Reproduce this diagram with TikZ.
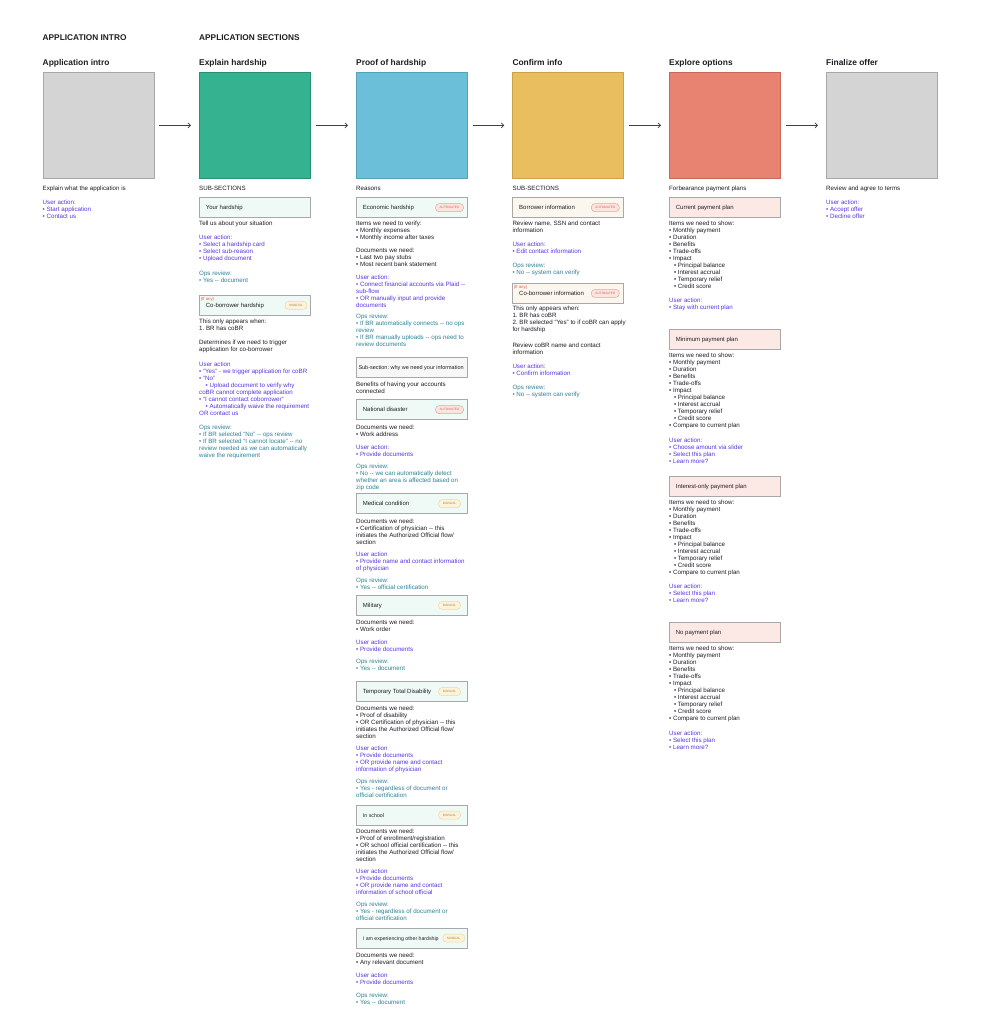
\documentclass[tikz,border=0pt]{standalone}
\usepackage{fontspec}
\setmainfont{Liberation Sans}
\usetikzlibrary{arrows.meta}
\frenchspacing
\definecolor{bodyc}{HTML}{1E1E24}
\definecolor{uac}{HTML}{5A34E0}
\definecolor{opsc}{HTML}{2D8296}
\definecolor{gbox}{HTML}{D4D4D4}\definecolor{gboxb}{HTML}{A8A8A8}
\definecolor{grn}{HTML}{35B391}\definecolor{grnb}{HTML}{2A8F74}
\definecolor{blu}{HTML}{6CBFD9}\definecolor{blub}{HTML}{58A2B9}
\definecolor{yel}{HTML}{E9BE5E}\definecolor{yelb}{HTML}{C9A24A}
\definecolor{sal}{HTML}{E88372}\definecolor{salb}{HTML}{C46A5C}
\definecolor{mint}{HTML}{EFFAF6}
\definecolor{beige}{HTML}{FBF7EE}
\definecolor{pink}{HTML}{FCE9E5}
\definecolor{subg}{HTML}{F7F7F7}
\definecolor{cardb}{HTML}{A8A8A8}
\definecolor{autof}{HTML}{FDE4E1}\definecolor{autob}{HTML}{E7A59B}\definecolor{autot}{HTML}{D66C5F}
\definecolor{manf}{HTML}{FDF3DA}\definecolor{manb}{HTML}{ECD8A4}\definecolor{mant}{HTML}{A88B4A}
\definecolor{ifany}{HTML}{F05A3A}
\newcommand\tb[1]{\begin{tabular}[t]{@{}l@{}}#1\end{tabular}}
\newcommand\dd{-{}-}
\newcommand\ind[1]{\hspace*{#1}}
\newcommand\mkcard[6]{% name, x, y, fill, font size, text
  \node[card, fill=#4] (#1) at (#2,#3) {};
  \node[cardtxt, font=\fontsize{#5}{7}\selectfont] (#1t) at ([xshift=6.7pt,yshift=-2pt]#1.west) {#6};}
\tikzset{
  body/.style={inner sep=0pt, anchor=base west, font=\fontsize{6.2}{7}\selectfont, text=bodyc},
  ua/.style={body, text=uac},
  ops/.style={body, text=opsc},
  hdr/.style={inner sep=0pt, anchor=base west, font=\fontsize{8.3}{10}\selectfont\bfseries, text=bodyc},
  ttl/.style={inner sep=0pt, anchor=base west, font=\fontsize{8.4}{10}\selectfont\bfseries, text=bodyc},
  bigbox/.style={line width=0.8pt, inner sep=0pt, minimum width=111pt, minimum height=106pt, anchor=north west},
  card/.style={draw=cardb, line width=0.7pt, inner sep=0pt, minimum width=110.5pt, minimum height=20pt, anchor=north west},
  cardtxt/.style={inner sep=0pt, anchor=base west, text=bodyc},
  badge/.style={rounded corners=3.6pt, line width=0.5pt, inner sep=0pt, minimum height=8pt, font=\fontsize{3.2}{4}\selectfont},
  autob/.style={badge, fill=autof, draw=autob, text=autot, minimum width=28pt},
  manb/.style={badge, fill=manf, draw=manb, text=mant, minimum width=22pt},
  ifa/.style={inner sep=0pt, anchor=base west, font=\fontsize{4.3}{5}\selectfont, text=ifany},
  arr/.style={draw=bodyc!85, line width=0.7pt, -{Straight Barb[length=2.6pt,width=5pt]}, shorten <=5pt, shorten >=8pt}
}
\begin{document}
\begin{tikzpicture}[x=1pt,y=-1pt]
\useasboundingbox (0,0) rectangle (980,1036);
\fill[white] (0,0) rectangle (980,1036);

% headers
\node[hdr] (hA) at (42.5,40) {APPLICATION INTRO};
\node[hdr] (hB) at (199,40) {APPLICATION SECTIONS};

% titles
\node[ttl] (tA) at (42.5,65) {Application intro};
\node[ttl] (tB) at (199,65) {Explain hardship};
\node[ttl] (tC) at (356,65) {Proof of hardship};
\node[ttl] (tD) at (512.3,65) {Confirm info};
\node[ttl] (tE) at (669,65) {Explore options};
\node[ttl] (tF) at (826,65) {Finalize offer};

% big boxes
\node[bigbox, fill=gbox, draw=gboxb] (bA) at (42.5,72) {};
\node[bigbox, fill=grn, draw=grnb] (bB) at (199,72) {};
\node[bigbox, fill=blu, draw=blub] (bC) at (356,72) {};
\node[bigbox, fill=yel, draw=yelb] (bD) at (512.3,72) {};
\node[bigbox, fill=sal, draw=salb] (bE) at (669,72) {};
\node[bigbox, fill=gbox, draw=gboxb] (bF) at (826,72) {};

% arrows
\draw[arr] (bA.east) -- (bB.west);
\draw[arr] (bB.east) -- (bC.west);
\draw[arr] (bC.east) -- (bD.west);
\draw[arr] (bD.east) -- (bE.west);
\draw[arr] (bE.east) -- (bF.west);

% ---------------- column A
\node[body] (a1) at (42.5,190.3) {Explain what the application is};
\node[ua] (a2) at (42.5,204.3) {\tb{User action:\\• Start application\\• Contact us}};

% ---------------- column B
\node[body] (b1) at (199,190.3) {SUB-SECTIONS};
\mkcard{cB1}{199}{197}{mint}{6}{Your hardship}
\node[body] (b2) at (199,225.7) {Tell us about your situation};
\node[ua] (b3) at (199,239.3) {\tb{User action:\\• Select a hardship card\\• Select sub-reason\\• Upload document}};
\node[ops] (b4) at (199,275.3) {\tb{Ops review:\\• Yes \dd{} document}};
\node[card, fill=mint] (cB2) at (199,295) {};
\node[ifa] (cB2i) at (200.6,300.8) {(If any)};
\node[cardtxt, font=\fontsize{6}{7}\selectfont] (cB2t) at (205.7,307.7) {Co-borrower hardship};
\node[manb] (cB2b) at ([xshift=-14.2pt]cB2.east) {MANUAL};
\node[body] (b5) at (199,323.7) {\tb{This only appears when:\\1. BR has coBR}};
\node[body] (b6) at (199,344.7) {\tb{Determines if we need to trigger\\application for co-borrower}};
\node[ua] (b7) at (199,366) {\tb{User action\\• “Yes” - we trigger application for coBR\\• “No”\\\ind{6.5pt}• Upload document to verify why\\coBR cannot complete application\\• “I cannot contact coborrower”\\\ind{6.5pt}• Automatically waive the requirement\\OR contact us}};
\node[ops] (b8) at (199,429.3) {\tb{Ops review:\\• If BR selected “No” \dd{} ops review\\• If BR selected “I cannot locate” \dd{} no\\review needed as we can automatically\\waive the requirement}};

% ---------------- column C
\node[body] (c1) at (356,190.3) {Reasons};
\mkcard{cC1}{356}{197.3}{mint}{6}{Economic hardship}
\node[autob] (cC1b) at ([xshift=-17.7pt]cC1.east) {AUTOMATED};
\node[body] (c2) at (356,225.3) {\tb{Items we need to verify:\\• Monthly expenses\\• Monthly income after taxes}};
\node[body] (c3) at (356,252.3) {\tb{Documents we need:\\• Last two pay stubs\\• Most recent bank statement}};
\node[ua] (c4) at (356,279.3) {\tb{User action:\\• Connect financial accounts via Plaid \dd\\sub-flow\\• OR manually input and provide\\documents}};
\node[ops] (c5) at (356,318.7) {\tb{Ops review:\\• If BR automatically connects \dd{} no ops\\review\\• If BR manually uploads \dd{} ops need to\\review documents}};
\node[card, fill=subg] (cC2) at (356,357.3) {};
\node[cardtxt, font=\fontsize{5.5}{7}\selectfont] (cC2t) at ([xshift=2.3pt,yshift=-2pt]cC2.west) {Sub-section: why we need your information};
\node[body] (c6) at (356,386) {\tb{Benefits of having your accounts\\connected}};
\mkcard{cC3}{356}{399.3}{mint}{6}{National disaster}
\node[autob] (cC3b) at ([xshift=-17.7pt]cC3.east) {AUTOMATED};
\node[body] (c7) at (356,429.3) {\tb{Documents we need:\\• Work address}};
\node[ua] (c8) at (356,449) {\tb{User action:\\• Provide documents}};
\node[ops] (c9) at (356,468.7) {\tb{Ops review:\\• No \dd{} we can automatically detect\\whether an area is affected based on\\zip code}};
\mkcard{cC4}{356}{493.3}{mint}{6}{Medical condition}
\node[manb] (cC4b) at ([xshift=-17.7pt]cC4.east) {MANUAL};
\node[body] (c10) at (356,523) {\tb{Documents we need:\\• Certification of physician \dd{} this\\initiates the Authorized Official flow/\\section}};
\node[ua] (c11) at (356,556) {\tb{User action\\• Provide name and contact information\\of physician}};
\node[ops] (c12) at (356,582.3) {\tb{Ops review:\\• Yes \dd{} official certification}};
\mkcard{cC5}{356}{595}{mint}{6}{Military}
\node[manb] (cC5b) at ([xshift=-17.7pt]cC5.east) {MANUAL};
\node[body] (c13) at (356,624.3) {\tb{Documents we need:\\• Work order}};
\node[ua] (c14) at (356,644) {\tb{User action\\• Provide documents}};
\node[ops] (c15) at (356,663.7) {\tb{Ops review:\\• Yes \dd{} document}};
\mkcard{cC6}{356}{681.3}{mint}{6}{Temporary Total Disability}
\node[manb] (cC6b) at ([xshift=-17.7pt]cC6.east) {MANUAL};
\node[body] (c16) at (356,710.3) {\tb{Documents we need:\\• Proof of disability\\• OR Certification of physician \dd{} this\\initiates the Authorized Official flow/\\section}};
\node[ua] (c17) at (356,750.3) {\tb{User action\\• Provide documents\\• OR provide name and contact\\information of physician}};
\node[ops] (c18) at (356,783.7) {\tb{Ops review:\\• Yes - regardless of document or\\official certification}};
\mkcard{cC7}{356}{804.7}{mint}{5.3}{In school}
\node[manb] (cC7b) at ([xshift=-17.7pt]cC7.east) {MANUAL};
\node[body] (c19) at (356,833.3) {\tb{Documents we need:\\• Proof of enrollment/registration\\• OR school official certification \dd{} this\\initiates the Authorized Official flow/\\section}};
\node[ua] (c20) at (356,873.7) {\tb{User action\\• Provide documents\\• OR provide name and contact\\information of school official}};
\node[ops] (c21) at (356,906.3) {\tb{Ops review:\\• Yes - regardless of document or\\official certification}};
\mkcard{cC8}{356}{927.7}{mint}{5.2}{I am experiencing other hardship}
\node[manb] (cC8b) at ([xshift=-13.4pt]cC8.east) {MANUAL};
\node[body] (c22) at (356,957) {\tb{Documents we need:\\• Any relevant document}};
\node[ua] (c23) at (356,977) {\tb{User action\\• Provide documents}};
\node[ops] (c24) at (356,997) {\tb{Ops review:\\• Yes \dd{} document}};

% ---------------- column D
\node[body] (d1) at (512.3,190.3) {SUB-SECTIONS};
\mkcard{cD1}{512.3}{197.3}{beige}{6}{Borrower information}
\node[autob] (cD1b) at ([xshift=-18.2pt]cD1.east) {AUTOMATED};
\node[body] (d2) at (512.3,225.3) {\tb{Review name, SSN and contact\\information}};
\node[ua] (d3) at (512.3,246.3) {\tb{User action:\\• Edit contact information}};
\node[ops] (d4) at (512.3,267.7) {\tb{Ops review:\\• No \dd{} system can verify}};
\node[card, fill=beige] (cD2) at (512.3,283) {};
\node[ifa] (cD2i) at (513.6,288.8) {(If any)};
\node[cardtxt, font=\fontsize{6}{7}\selectfont] (cD2t) at (519,295.3) {Co-borrower information};
\node[autob] (cD2b) at ([xshift=-18.2pt]cD2.east) {AUTOMATED};
\node[body] (d5) at (512.3,310.3) {\tb{This only appears when:\\1. BR has coBR\\2. BR selected “Yes” to if coBR can apply\\for hardship}};
\node[body] (d6) at (512.3,347) {\tb{Review coBR name and contact\\information}};
\node[ua] (d7) at (512.3,368) {\tb{User action:\\• Confirm information}};
\node[ops] (d8) at (512.3,389.3) {\tb{Ops review:\\• No \dd{} system can verify}};

% ---------------- column E
\node[body] (e1) at (669,190.3) {Forbearance payment plans};
\mkcard{cE1}{669}{197.3}{pink}{6}{Current payment plan}
\node[body] (e2) at (669,225.3) {\tb{Items we need to show:\\• Monthly payment\\• Duration\\• Benefits\\• Trade-offs\\• Impact\\\ind{4.8pt}• Principal balance\\\ind{4.8pt}• Interest accrual\\\ind{4.8pt}• Temporary relief\\\ind{4.8pt}• Credit score}};
\node[ua] (e3) at (669,302.7) {\tb{User action:\\• Stay with current plan}};
\mkcard{cE2}{669}{329.3}{pink}{6}{Minimum payment plan}
\node[body] (e4) at (669,357.7) {\tb{Items we need to show:\\• Monthly payment\\• Duration\\• Benefits\\• Trade-offs\\• Impact\\\ind{4.8pt}• Principal balance\\\ind{4.8pt}• Interest accrual\\\ind{4.8pt}• Temporary relief\\\ind{4.8pt}• Credit score\\• Compare to current plan}};
\node[ua] (e5) at (669,442.3) {\tb{User action:\\• Choose amount via slider\\• Select this plan\\• Learn more?}};
\mkcard{cE3}{669}{475.7}{pink}{6}{Interest-only payment plan}
\node[body] (e6) at (669,504) {\tb{Items we need to show:\\• Monthly payment\\• Duration\\• Benefits\\• Trade-offs\\• Impact\\\ind{4.8pt}• Principal balance\\\ind{4.8pt}• Interest accrual\\\ind{4.8pt}• Temporary relief\\\ind{4.8pt}• Credit score\\• Compare to current plan}};
\node[ua] (e7) at (669,588.7) {\tb{User action:\\• Select this plan\\• Learn more?}};
\mkcard{cE4}{669}{622.3}{pink}{6}{No payment plan}
\node[body] (e8) at (669,650.3) {\tb{Items we need to show:\\• Monthly payment\\• Duration\\• Benefits\\• Trade-offs\\• Impact\\\ind{4.8pt}• Principal balance\\\ind{4.8pt}• Interest accrual\\\ind{4.8pt}• Temporary relief\\\ind{4.8pt}• Credit score\\• Compare to current plan}};
\node[ua] (e9) at (669,735) {\tb{User action:\\• Select this plan\\• Learn more?}};

% ---------------- column F
\node[body] (f1) at (826,190.3) {Review and agree to terms};
\node[ua] (f2) at (826,204.3) {\tb{User action:\\• Accept offer\\• Decline offer}};
\end{tikzpicture}
\end{document}
